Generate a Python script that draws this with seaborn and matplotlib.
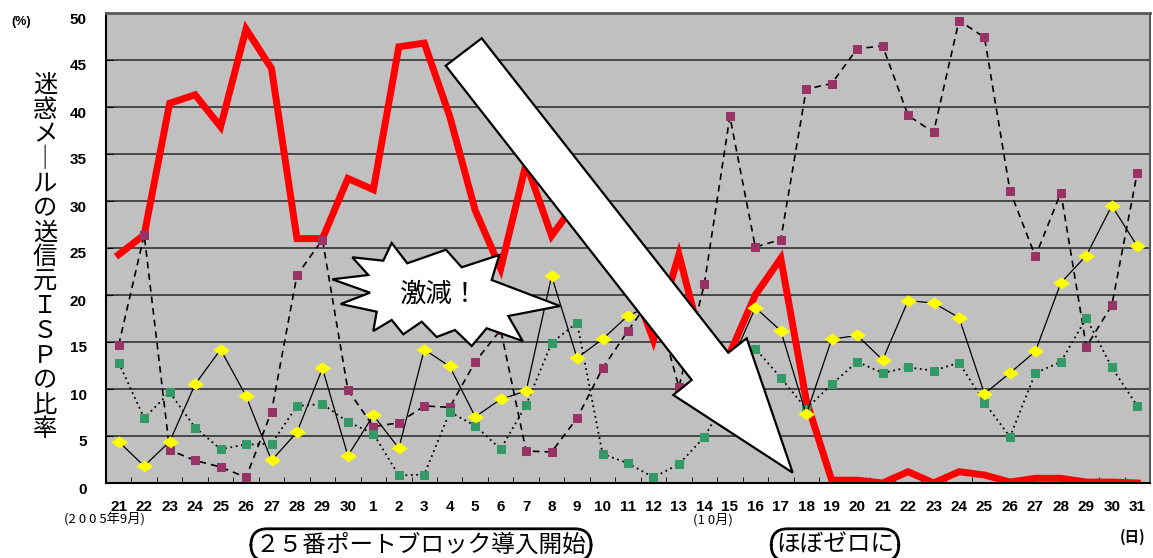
import numpy as np
import pandas as pd
import matplotlib
matplotlib.use("Agg")
import matplotlib.pyplot as plt
from matplotlib.patches import Polygon
from matplotlib.transforms import ScaledTranslation
import seaborn as sns

# 2005-09-21 .. 2005-10-31
days = [str(d) for d in range(21, 31)] + [str(d) for d in range(1, 32)]

red_isp = [24.3, 26.4, 40.4, 41.3, 37.9, 48.3, 44.1, 26.0, 26.0, 32.4,
           31.2, 46.4, 46.8, 39.0, 29.0, 22.8, 34.0, 26.3, 30.0, 27.0,
           22.5, 15.2, 24.3, 13.8, 13.8, 20.0, 23.9, 8.8, 0.3, 0.3,
           0.0, 1.2, 0.0, 1.2, 0.85, 0.1, 0.5, 0.5, 0.1, 0.1, 0.0]
purple_isp = [14.7, 26.4, 3.5, 2.4, 1.7, 0.6, 7.6, 22.1, 25.9, 9.9,
              6.0, 6.4, 8.2, 8.05, 12.9, 16.3, 3.4, 3.3, 6.9, 12.2,
              16.2, 20.0, 10.2, 21.2, 39.0, 25.1, 25.9, 41.9, 42.5, 46.2,
              46.5, 39.1, 37.3, 49.2, 47.4, 31.1, 24.1, 30.9, 14.5, 18.9, 33.0]
green_isp = [12.8, 6.9, 9.65, 5.9, 3.6, 4.1, 4.15, 8.2, 8.4, 6.5,
             5.25, 0.8, 0.9, 7.55, 6.1, 3.6, 8.3, 14.9, 17.05, 3.1,
             2.1, 0.6, 2.0, 4.9, 9.6, 14.3, 11.2, 7.9, 10.5, 12.9,
             11.7, 12.3, 11.95, 12.8, 8.55, 4.9, 11.7, 12.9, 17.55, 12.3, 8.2]
yellow_isp = [4.4, 1.8, 4.4, 10.5, 14.2, 9.25, 2.4, 5.4, 12.2, 2.9,
              7.2, 3.7, 14.2, 12.4, 7.05, 8.9, 9.8, 22.0, 13.3, 15.3,
              17.8, 19.0, 15.5, 13.5, 12.5, 18.65, 16.2, 7.3, 15.3, 15.7,
              13.1, 19.4, 19.15, 17.6, 9.5, 11.7, 14.0, 21.3, 24.2, 29.5, 25.2]
y_ticks = list(range(0, 55, 5))
ylabel_chars = list("迷惑メ｜ルの送信元ＩＳＰの比率")

W, H = 1153, 558
CJK = ["Noto Sans CJK JP", "DejaVu Sans"]
NUM = ["Liberation Sans", "DejaVu Sans"]


def fxy(x, y):
    # pixel position in the picture -> figure fraction
    return x / W, 1 - y / H


def main():
    df = pd.DataFrame({"pos": np.arange(len(days)), "red": red_isp, "purple": purple_isp,
                       "green": green_isp, "yellow": yellow_isp})

    fig = plt.figure(figsize=(W / 100, H / 100), dpi=100)
    ax = fig.add_axes([106 / W, 1 - 483 / H, (1150 - 106) / W, (483 - 13) / H])
    ax.set_facecolor("#c0c0c0")
    ax.set_axisbelow(True)
    ax.grid(axis="y", color="#333333", lw=1.2)

    sns.lineplot(data=df, x="pos", y="red", color="#ff0000", lw=5, ax=ax,
                 solid_joinstyle="miter", zorder=2)
    sns.lineplot(data=df, x="pos", y="purple", color="black", lw=1.2, linestyle=(0, (4, 3)),
                 marker="s", markersize=5.5, markerfacecolor="#993366",
                 markeredgecolor="#993366", ax=ax, zorder=3)
    sns.lineplot(data=df, x="pos", y="green", color="black", lw=1.3, linestyle=(0, (1, 2)),
                 marker="s", markersize=5.5, markerfacecolor="#339966",
                 markeredgecolor="#339966", ax=ax, zorder=3)
    diamond = [(-1, 0), (0, 0.72), (1, 0), (0, -0.72)]
    sns.lineplot(data=df, x="pos", y="yellow", color="black", lw=0.9,
                 marker=diamond, markersize=11, markerfacecolor="#ffff00",
                 markeredgecolor="#ffff00", ax=ax, zorder=4)

    ax.set_xlim(-0.5, len(days) - 0.5)
    ax.set_ylim(0, 50)
    ax.set_xlabel("")
    ax.set_ylabel("")

    ax.set_xticks(range(len(days)))
    ax.set_xticklabels(days, fontfamily=NUM, fontweight="bold", fontsize=11)
    ax.set_xticks(np.arange(-0.5, len(days), 1), minor=True)
    ax.tick_params(axis="x", which="major", length=0, pad=12)
    ax.tick_params(axis="x", which="minor", direction="in", length=4, color="black")
    ax.set_yticks(y_ticks)
    ax.set_yticklabels([str(v) for v in y_ticks], fontfamily=NUM, fontweight="bold", fontsize=11)
    ax.tick_params(axis="y", direction="in", length=5, pad=14, color="black")
    shift = ScaledTranslation(0, -0.05, fig.dpi_scale_trans)
    for lab in ax.get_yticklabels():
        lab.set_transform(lab.get_transform() + shift)

    ax.spines["left"].set_color("black")
    ax.spines["left"].set_linewidth(1.5)
    ax.spines["bottom"].set_color("black")
    ax.spines["bottom"].set_linewidth(1.5)
    ax.spines["top"].set_color("#5a5a5a")
    ax.spines["top"].set_linewidth(2)
    ax.spines["right"].set_color("#5a5a5a")
    ax.spines["right"].set_linewidth(1.5)

    # big white arrow
    arrow_px = [(445.7, 65.7), (481.7, 38.3), (728.3, 352.7), (746.7, 338.3),
                (792.7, 472.7), (673.3, 395), (691.7, 380)]
    fig.add_artist(Polygon([fxy(*p) for p in arrow_px], closed=True, transform=fig.transFigure,
                           fc="white", ec="black", lw=1.6, zorder=10))

    # starburst callout
    star_px = [(391.7, 243), (407.3, 263.3), (446, 249.7), (461.7, 267.3), (499.3, 255),
               (491.7, 280), (560, 306), (508.3, 316), (522.7, 341), (486.7, 328.3),
               (471.7, 346), (455, 330), (436.7, 337), (421.7, 321.7), (403.3, 334.3),
               (391.7, 320), (373.3, 331), (376.7, 311.7), (340.7, 304), (370, 292.7),
               (332.3, 279.3), (368.3, 275), (352.3, 257.3), (383.3, 260.7)]
    fig.add_artist(Polygon([fxy(*p) for p in star_px], closed=True, transform=fig.transFigure,
                           fc="white", ec="black", lw=1.6, zorder=10))
    fig.text(*fxy(440, 294), "激減！", ha="center", va="center", fontsize=19,
             family=CJK, zorder=11)

    # vertical y label
    for i, ch in enumerate(ylabel_chars):
        fig.text(*fxy(45, 85 + i * 24.6), ch, ha="center", va="center", fontsize=17.5, family=CJK)
    fig.text(*fxy(21, 22), "(%)", ha="center", va="center", fontsize=9, fontweight="bold", family=NUM)

    fig.text(*fxy(105, 519), "(2 0 0 5年9月)", ha="center", va="center", fontsize=9.5, family=CJK)
    fig.text(*fxy(713, 520), "(1 0月)", ha="center", va="center", fontsize=9.5, family=CJK)
    fig.text(*fxy(1133, 537), "(日)", ha="center", va="center", fontsize=10.5, fontweight="bold", family=CJK)

    box = dict(boxstyle="round,pad=0.2,rounding_size=0.7", fc="white", ec="black", lw=2)
    fig.text(*fxy(421, 545), "２５番ポートブロック導入開始", ha="center", va="center",
             fontsize=17, family=CJK, bbox=box)
    fig.text(*fxy(835, 545), "ほぼゼロに", ha="center", va="center",
             fontsize=17, family=CJK, bbox=box)

    fig.savefig("out.png", dpi=100)
    plt.close(fig)


if __name__ == "__main__":
    main()
